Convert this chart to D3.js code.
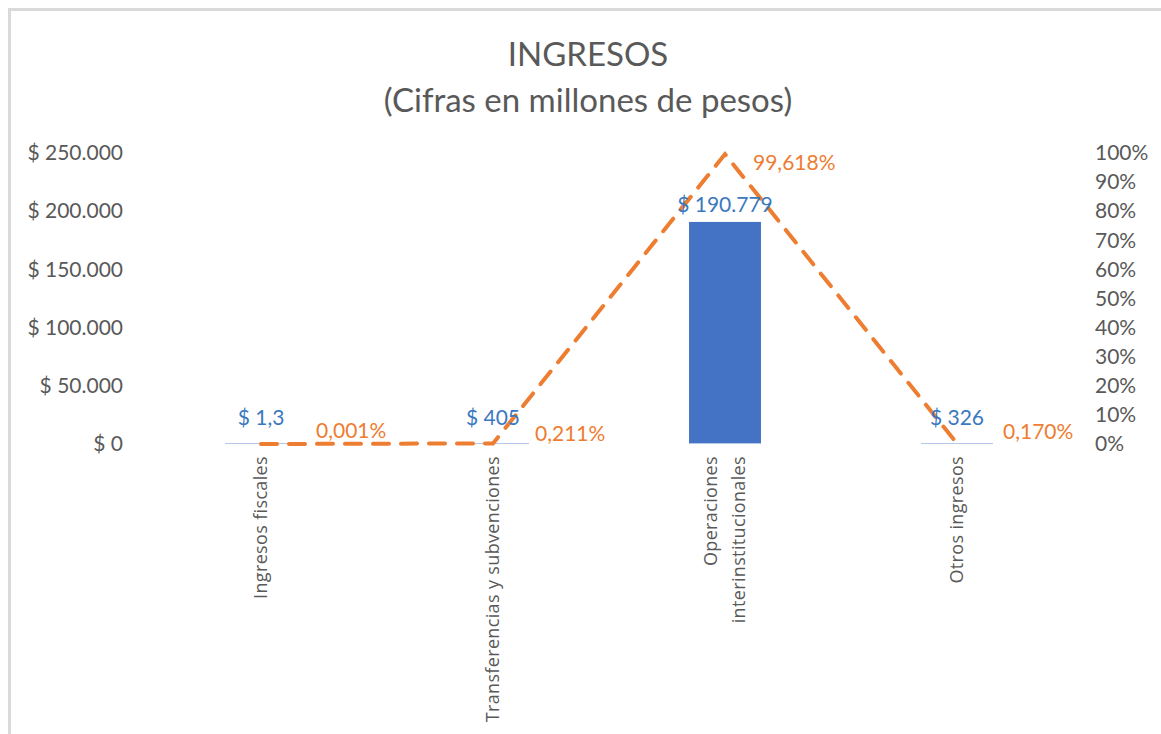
<!DOCTYPE html>
<html>
<head>
<meta charset="utf-8">
<script src="https://cdn.jsdelivr.net/npm/d3@7"></script>
<style>
  html, body { margin: 0; padding: 0; background: #fff; }
  svg { display: block; }
</style>
</head>
<body>
<script>
const WIDTH = 1161;
const HEIGHT = 734;

// Data.
const categories = [
    'Ingresos fiscales',
    'Transferencias y subvenciones',
    'Operaciones interinstitucionales',
    'Otros ingresos'
];
const categoryLines = [
    ['Ingresos fiscales'],
    ['Transferencias y subvenciones'],
    ['Operaciones', 'interinstitucionales'],
    ['Otros ingresos']
];
const amounts = [1.3, 405, 190779, 326];          // millones de pesos
const shares = [0.00001, 0.00211, 0.99618, 0.00170];
const amountTicks = [0, 50000, 100000, 150000, 200000, 250000];
const shareTicks = [0, 0.1, 0.2, 0.3, 0.4, 0.5, 0.6, 0.7, 0.8, 0.9, 1];

const BAR_COLOR = '#4472C4';
const LINE_COLOR = '#ED7D31';
const BAR_LABEL_COLOR = '#3A78C0';
const TEXT_COLOR = '#595959';
const FONT = 'Lato, Carlito, sans-serif';
const LABEL_SIZE = '21px';

// Label nudges (pixels) so they sit like in the original.
const barLabelDy = [-26, -26, -17, -26];
const lineLabelOffset = [[55, -13], [42, -10], [28, 9], [46, -12]];

const PLOT = { left: 145, right: 1073, top: 153, bottom: 444 };

const locale = d3.formatLocale({
    decimal: ',', thousands: '.', grouping: [3], currency: ['$ ', '']
});
const fmtInt = locale.format(',d');
const fmtDec = locale.format(',.1f');
const fmtMoney = v => '$ ' + (Number.isInteger(v) ? fmtInt(v) : fmtDec(v));
const fmtPctTick = locale.format('.0%');
const fmtPct = locale.format('.3%');

var svg = d3.select('body')
    .append('svg')
    .attr('width', WIDTH)
    .attr('height', HEIGHT);

svg.append('rect')
    .attr('width', WIDTH)
    .attr('height', HEIGHT)
    .attr('fill', '#fff');

// chart frame (only top and left edges show in the crop)
svg.append('rect')
    .attr('x', 9.5)
    .attr('y', 9.5)
    .attr('width', WIDTH + 20)
    .attr('height', HEIGHT + 20)
    .attr('fill', 'none')
    .attr('stroke', '#D9D9D9')
    .attr('stroke-width', 3);

// Title.
const title = svg.append('text')
    .attr('text-anchor', 'middle')
    .attr('fill', TEXT_COLOR)
    .style('font-family', FONT)
    .style('font-size', '33px');
title.append('tspan').attr('x', 588).attr('y', 66).text('INGRESOS');
title.append('tspan').attr('x', 588).attr('y', 112).text('(Cifras en millones de pesos)');

var x = d3.scaleBand()
    .domain(categories)
    .range([PLOT.left, PLOT.right])
    .paddingInner(0.69)
    .paddingOuter(0.345);
var yAmount = d3.scaleLinear()
    .domain([0, 250000])
    .range([PLOT.bottom, PLOT.top]);
var yShare = d3.scaleLinear()
    .domain([0, 1])
    .range([PLOT.bottom, PLOT.top]);
const cx = c => x(c) + x.bandwidth() / 2;

// Left axis.
var leftAxis = svg.append('g')
    .attr('transform', `translate(${PLOT.left - 10},0)`)
    .call(d3.axisLeft(yAmount).tickValues(amountTicks).tickFormat(fmtMoney).tickSize(0).tickPadding(12));
leftAxis.select('.domain').remove();
leftAxis.selectAll('text')
    .attr('fill', TEXT_COLOR)
    .style('font-family', FONT)
    .style('font-size', LABEL_SIZE);

// Right axis.
var rightAxis = svg.append('g')
    .attr('transform', `translate(${PLOT.right + 10},0)`)
    .call(d3.axisRight(yShare).tickValues(shareTicks).tickFormat(fmtPctTick).tickSize(0).tickPadding(12));
rightAxis.select('.domain').remove();
rightAxis.selectAll('text')
    .attr('fill', TEXT_COLOR)
    .style('font-family', FONT)
    .style('font-size', LABEL_SIZE);

// Bars.
svg.append('g')
    .selectAll('rect')
    .data(categories)
    .join('rect')
    .attr('x', d => x(d))
    .attr('width', x.bandwidth())
    .attr('y', (d, i) => yAmount(amounts[i]))
    .attr('height', (d, i) => PLOT.bottom - yAmount(amounts[i]))
    .attr('fill', BAR_COLOR);

// Thin light baseline where bars are too small to see.
svg.append('g')
    .selectAll('line')
    .data(categories)
    .join('line')
    .attr('x1', d => x(d))
    .attr('x2', d => x(d) + x.bandwidth())
    .attr('y1', PLOT.bottom - 0.5)
    .attr('y2', PLOT.bottom - 0.5)
    .attr('stroke', '#B4C7E7')
    .attr('stroke-width', 1);

// Line of shares.
var line = d3.line()
    .x(d => cx(d))
    .y((d, i) => yShare(shares[i]));
svg.append('path')
    .datum(categories)
    .attr('d', line)
    .attr('fill', 'none')
    .attr('stroke', LINE_COLOR)
    .attr('stroke-width', 4)
    .attr('stroke-dasharray', '16,12')
    .attr('stroke-linecap', 'round');

// Bar labels.
svg.append('g')
    .selectAll('text')
    .data(categories)
    .join('text')
    .attr('x', d => cx(d))
    .attr('y', (d, i) => yAmount(amounts[i]) + barLabelDy[i])
    .attr('dy', '0.35em')
    .attr('text-anchor', 'middle')
    .attr('fill', BAR_LABEL_COLOR)
    .style('font-family', FONT)
    .style('font-size', LABEL_SIZE)
    .text((d, i) => fmtMoney(amounts[i]));

// Line labels.
svg.append('g')
    .selectAll('text')
    .data(categories)
    .join('text')
    .attr('x', (d, i) => cx(d) + lineLabelOffset[i][0])
    .attr('y', (d, i) => yShare(shares[i]) + lineLabelOffset[i][1])
    .attr('dy', '0.35em')
    .attr('fill', LINE_COLOR)
    .style('font-family', FONT)
    .style('font-size', LABEL_SIZE)
    .text((d, i) => fmtPct(shares[i]));

// Category labels, rotated.
var catLabels = svg.append('g')
    .selectAll('text')
    .data(categories)
    .join('text')
    .attr('transform', d => `translate(${cx(d)},456) rotate(-90)`)
    .attr('text-anchor', 'end')
    .attr('fill', TEXT_COLOR)
    .style('font-family', '"Open Sans", sans-serif')
    .style('font-size', '18px')
    .style('letter-spacing', '0.35px');
catLabels.each(function(d, i) {
    const lines = categoryLines[i];
    const sel = d3.select(this);
    lines.forEach((t, j) => {
        sel.append('tspan')
            .attr('x', 0)
            .attr('y', (j - (lines.length - 1) / 2) * 28)
            .attr('dy', '0.35em')
            .text(t);
    });
});
</script>
</body>
</html>
